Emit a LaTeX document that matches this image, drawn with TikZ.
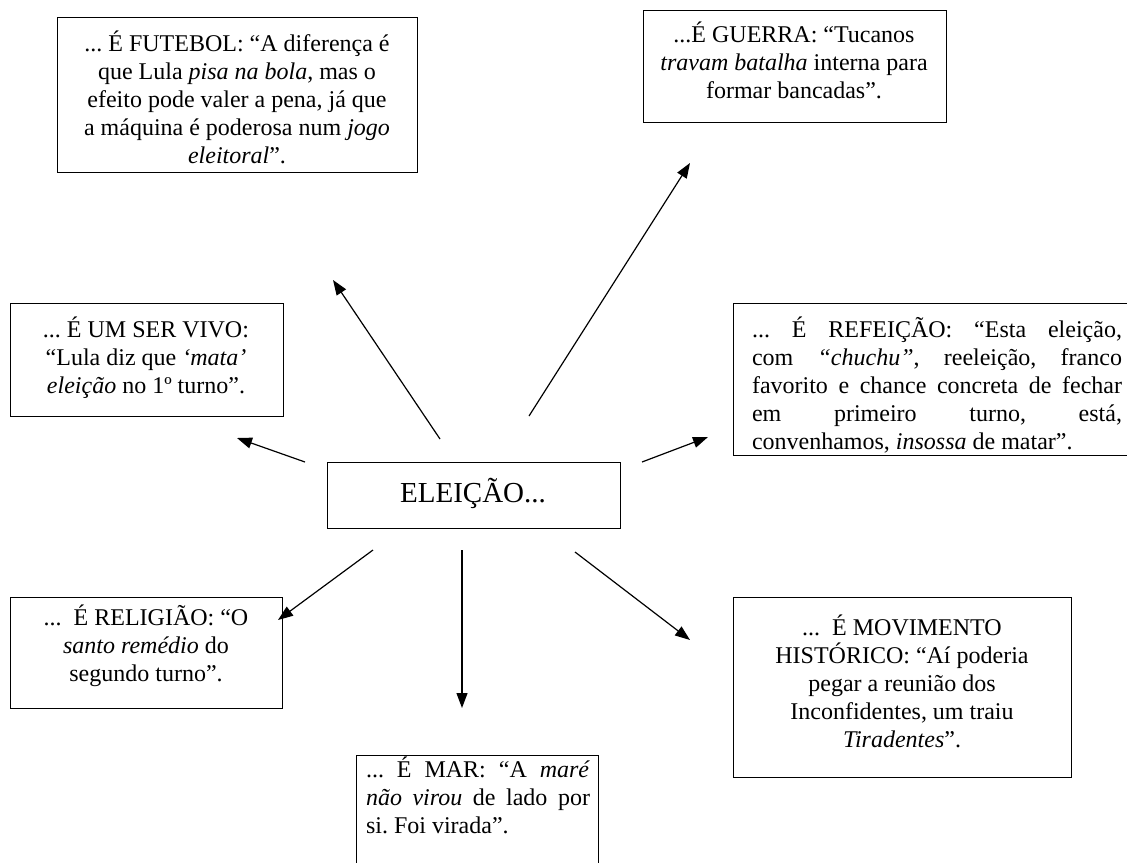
\documentclass[tikz,border=0pt]{standalone}
\usepackage{fontspec}
\setmainfont{Liberation Serif}
\usetikzlibrary{arrows.meta}
\frenchspacing
\newcommand\jline[2]{\makebox[#1][s]{\spaceskip=0pt\xspaceskip=0pt #2}}
\begin{document}
\begin{tikzpicture}[x=1pt,y=-1pt,
  frame/.style={draw, line width=1.2pt, inner sep=0pt, anchor=north west},
  txt/.style={inner sep=0pt, font=\fontsize{24}{28}\selectfont, align=center},
  jtxt/.style={inner sep=0pt, font=\fontsize{24}{28}\selectfont, align=justify},
  arr/.style={line width=1.2pt, -{Triangle[length=15pt,width=11pt]}}]
\useasboundingbox (0,0) rectangle (1127,862);
\fill[white] (0,0) rectangle (1127,862);

% boxes
\node[frame, minimum width=360pt, minimum height=155pt] (futebol) at (57,17) {};
\node[frame, minimum width=303pt, minimum height=112pt] (guerra) at (643,10) {};
\node[frame, minimum width=273pt, minimum height=113pt] (vivo) at (10,303) {};
\node[frame, minimum width=402pt, minimum height=152pt] (refeicao) at (733,303) {};
\node[frame, minimum width=272pt, minimum height=111pt] (religiao) at (10,597) {};
\node[frame, minimum width=338pt, minimum height=180pt] (movimento) at (733,597) {};
\node[frame, minimum width=242pt, minimum height=115pt] (mar) at (356,755) {};
\node[frame, minimum width=293pt, minimum height=66pt] (eleicao) at (327,462) {};

% texts
\node[txt] (futeboltxt) at (237,97) {... É FUTEBOL: “A diferença é\\
que Lula \textit{pisa na bola}, mas o\\
efeito pode valer a pena, já que\\
a máquina é poderosa num \textit{jogo}\\
\textit{eleitoral}”.};

\node[txt] (guerratxt) at (794,60) {...É GUERRA: “Tucanos\\
\textit{travam batalha} interna para\\
formar bancadas”.};

\node[txt] (vivotxt) at (146,358) {... É UM SER VIVO:\\
“Lula diz que \textit{‘mata’}\\
\textit{eleição} no 1º turno”.};

\node[jtxt, text width=370pt] (refeicaotxt) at (937,385) {%
\jline{370pt}{... É REFEIÇÃO: “Esta eleição,}\\
\jline{370pt}{com \textit{“chuchu”}, reeleição, franco}\\
\jline{370pt}{favorito e chance concreta de fechar}\\
\jline{370pt}{em primeiro turno, está,}\\
convenhamos, \textit{insossa} de matar”.};

\node[txt] (religiaotxt) at (146,646) {...~ É RELIGIÃO: “O\\
\textit{santo remédio} do\\
segundo turno”.};

\node[txt] (movimentotxt) at (902,681) {...~ É MOVIMENTO\\
HISTÓRICO: “Aí poderia\\
pegar a reunião dos\\
Inconfidentes, um traiu\\
\textit{Tiradentes}”.};

\node[jtxt, text width=224pt] (martxt) at (478,795) {%
\jline{224pt}{... É MAR: “A \textit{maré}}\\
\jline{224pt}{\textit{não virou} de lado por}\\
si. Foi virada”.};

\node[inner sep=0pt, font=\fontsize{29}{32}\selectfont] (eleicaotxt) at (473,493) {ELEIÇÃO...};

% arrow end points
\coordinate (s1) at (440,439); \coordinate (e1) at (333,280);
\coordinate (s2) at (529,416); \coordinate (e2) at (690,163);
\coordinate (s3) at (305,462); \coordinate (e3) at (237,438);
\coordinate (s4) at (642,462); \coordinate (e4) at (708,437);
\coordinate (s5) at (373,550); \coordinate (e5) at (278,620);
\coordinate (s6) at (462,550); \coordinate (e6) at (462,708);
\coordinate (s7) at (575,552); \coordinate (e7) at (690,640);

\draw[arr] (s1) -- (e1);
\draw[arr] (s2) -- (e2);
\draw[arr] (s3) -- (e3);
\draw[arr] (s4) -- (e4);
\draw[arr] (s5) -- (e5);
\draw[arr] (s6) -- (e6);
\draw[arr] (s7) -- (e7);
\end{tikzpicture}
\end{document}
